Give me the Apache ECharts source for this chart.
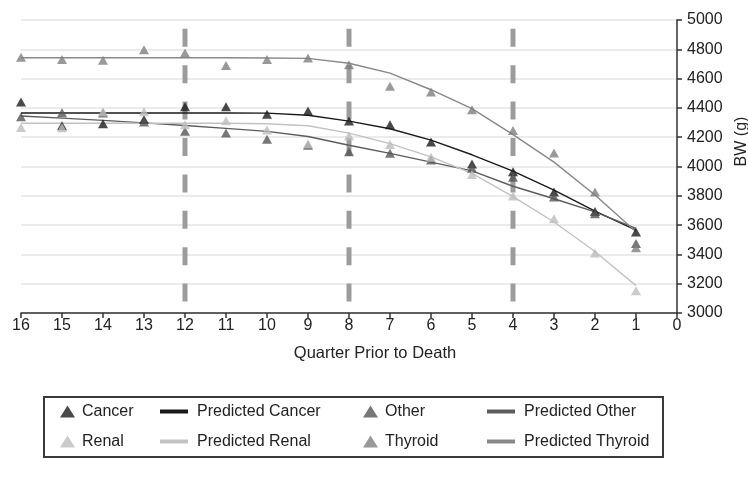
<!DOCTYPE html>
<html>
<head>
<meta charset="utf-8">
<script src="https://cdn.jsdelivr.net/npm/echarts@6/dist/echarts.min.js"></script>
<style>
  html, body { margin: 0; padding: 0; background: #ffffff; }
  #chart { width: 748px; height: 483px; }
</style>
</head>
<body>
<div id="chart"></div>
<script>
// Quarters before death (x), body weight in grams (y)
const quarters = [16, 15, 14, 13, 12, 11, 10, 9, 8, 7, 6, 5, 4, 3, 2, 1];

// Observed mean body weight per group
const cancer  = [4440, 4278, 4292, 4320, 4408, 4408, 4356, 4378, 4310, 4285, 4168, 4017, 3965, 3826, 3692, 3553];
const other   = [4340, 4367, 4365, 4303, 4240, 4228, 4186, 4145, 4100, 4090, 4045, 3988, 3926, 3792, 3678, 3475];
const renal   = [4267, 4265, 4374, 4374, 4285, 4313, 4250, 4156, 4210, 4150, 4063, 3946, 3798, 3644, 3410, 3152];
const thyroid = [4745, 4730, 4725, 4797, 4775, 4690, 4730, 4740, 4695, 4548, 4508, 4388, 4245, 4092, 3826, 3445];

// Model predictions per group
const predCancer  = [4365, 4365, 4365, 4365, 4365, 4365, 4364, 4350, 4310, 4258, 4180, 4080, 3968, 3838, 3696, 3565];
const predOther   = [4345, 4330, 4315, 4298, 4280, 4260, 4240, 4205, 4145, 4090, 4030, 3970, 3865, 3780, 3690, 3578];
const predRenal   = [4295, 4295, 4295, 4295, 4295, 4295, 4292, 4278, 4228, 4156, 4066, 3953, 3795, 3621, 3420, 3187];
const predThyroid = [4742, 4742, 4742, 4742, 4742, 4742, 4741, 4738, 4705, 4637, 4524, 4395, 4218, 4030, 3805, 3555];

// Vertical reference markers (yearly boundaries) and their vertical extent
const dividers = [12, 8, 4];
const dividerSpan = [4940, 3078];

// Axis settings
const xTicks = { min: 0, max: 16, interval: 1 };
const yTicks = { min: 3000, max: 5000, interval: 200 };

const FONT = "'Liberation Sans', Arial, Helvetica, sans-serif";
const TEXT = '#222222';

const pair = (vals) => quarters.map((q, i) => [q, vals[i]]);

const groups = [
  { name: 'Cancer',   obs: cancer,  pred: predCancer,  pname: 'Predicted Cancer',  mark: '#1c1c1c', line: '#1a1a1a' },
  { name: 'Other',    obs: other,   pred: predOther,   pname: 'Predicted Other',   mark: '#555555', line: '#5c5c5c' },
  { name: 'Renal',    obs: renal,   pred: predRenal,   pname: 'Predicted Renal',   mark: '#bdbdbd', line: '#c2c2c2' },
  { name: 'Thyroid',  obs: thyroid, pred: predThyroid, pname: 'Predicted Thyroid', mark: '#808080', line: '#888888' }
];

const series = [];

dividers.forEach((q, i) => {
  series.push({
    name: 'divider' + i,
    type: 'line',
    data: [[q, dividerSpan[0]], [q, dividerSpan[1]]],
    symbol: 'none',
    silent: true,
    z: 1,
    lineStyle: { color: '#9c9c9c', width: 5, type: [18, 18.4], cap: 'butt' }
  });
});

groups.forEach((g) => {
  series.push({
    name: g.name,
    type: 'scatter',
    data: pair(g.obs),
    symbol: 'triangle',
    symbolSize: [10, 9],
    z: 4,
    itemStyle: { color: g.mark }
  });
  series.push({
    name: g.pname,
    type: 'line',
    data: pair(g.pred),
    symbol: 'none',
    z: 3,
    itemStyle: { color: g.line },
    lineStyle: { color: g.line, width: 1.4 }
  });
});

const legendText = { fontFamily: FONT, fontSize: 16, color: TEXT, lineHeight: 18 };
const legendCommon = {
  orient: 'vertical',
  top: 402.5,
  itemGap: 12,
  selectedMode: false,
  padding: 0
};

const option = {
  animation: false,
  backgroundColor: '#ffffff',
  textStyle: { fontFamily: FONT },
  grid: { left: 21, right: 71, top: 20, bottom: 170, containLabel: false, outerBoundsMode: 'none' },
  xAxis: {
    type: 'value',
    inverse: true,
    min: xTicks.min, max: xTicks.max, interval: xTicks.interval,
    name: 'Quarter Prior to Death',
    nameLocation: 'middle',
    nameGap: 32,
    nameTextStyle: { fontFamily: FONT, fontSize: 16.5, color: TEXT, padding: [0, 0, 0, 52] },
    axisLine: { show: true, lineStyle: { color: '#333333', width: 1.5 } },
    axisTick: { show: true, length: 5, lineStyle: { color: '#333333', width: 1.5 } },
    axisLabel: { fontFamily: FONT, fontSize: 16, color: TEXT, margin: 5 },
    splitLine: { show: false }
  },
  yAxis: {
    type: 'value',
    position: 'right',
    min: yTicks.min, max: yTicks.max, interval: yTicks.interval,
    name: 'BW (g)',
    nameLocation: 'middle',
    nameRotate: 90,
    nameGap: 57,
    nameTextStyle: { fontFamily: FONT, fontSize: 16, color: TEXT, padding: [0, 0, 0, 50] },
    axisLine: { show: true, lineStyle: { color: '#333333', width: 1.5 } },
    axisTick: { show: true, length: 5, lineStyle: { color: '#333333', width: 1.5 } },
    axisLabel: { fontFamily: FONT, fontSize: 16, color: TEXT, margin: 10, formatter: (v) => String(v) },
    splitLine: { show: true, lineStyle: { color: '#e4e4e4', width: 1.5 } }
  },
  legend: [
    Object.assign({}, legendCommon, {
      left: 60, data: ['Cancer', 'Renal'], icon: 'triangle', itemWidth: 15, itemHeight: 12,
      textStyle: Object.assign({}, legendText, { padding: [0, 0, 0, 2] })
    }),
    Object.assign({}, legendCommon, {
      left: 160, data: ['Predicted Cancer', 'Predicted Renal'], icon: 'rect', itemWidth: 28, itemHeight: 4,
      textStyle: Object.assign({}, legendText, { padding: [0, 0, 0, 4] })
    }),
    Object.assign({}, legendCommon, {
      left: 363, data: ['Other', 'Thyroid'], icon: 'triangle', itemWidth: 15, itemHeight: 12,
      textStyle: Object.assign({}, legendText, { padding: [0, 0, 0, 2] })
    }),
    Object.assign({}, legendCommon, {
      left: 487, data: ['Predicted Other', 'Predicted Thyroid'], icon: 'rect', itemWidth: 28, itemHeight: 4,
      textStyle: Object.assign({}, legendText, { padding: [0, 0, 0, 4] })
    })
  ],
  graphic: [{
    type: 'rect',
    silent: true,
    shape: { x: 44, y: 397, width: 619, height: 60 },
    style: { fill: 'none', stroke: '#3a3a3a', lineWidth: 2 }
  }],
  series: series
};

const chart = echarts.init(document.getElementById('chart'), null, { renderer: 'canvas' });
chart.setOption(option);
</script>
</body>
</html>
